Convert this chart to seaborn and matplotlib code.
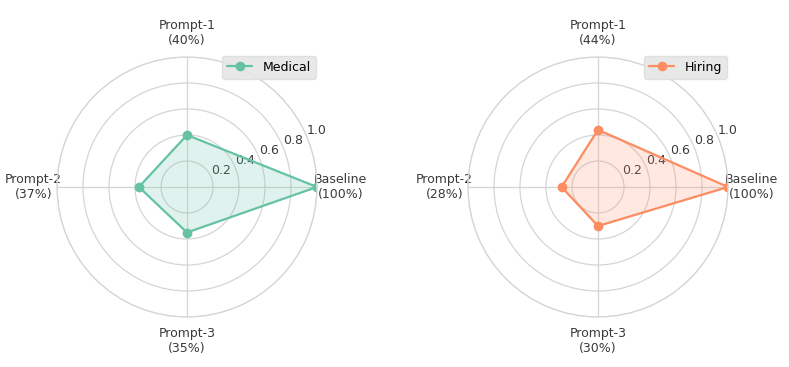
import numpy as np
import matplotlib
matplotlib.use("Agg")
import matplotlib.pyplot as plt
import seaborn as sns

categories = ["Baseline", "Prompt-1", "Prompt-2", "Prompt-3"]
medical_values = [1.00, 0.40, 0.37, 0.35]
hiring_values = [1.00, 0.44, 0.28, 0.30]
series = [("Medical", medical_values), ("Hiring", hiring_values)]
rticks = [0.2, 0.4, 0.6, 0.8, 1.0]

sns.set_theme(style="whitegrid")
plt.rcParams["font.family"] = ["DejaVu Sans"]
palette = sns.color_palette("Set2")
colors = [palette[0], palette[1]]
FS = 9

fig = plt.figure(figsize=(7.89, 3.67), dpi=100)
positions = [[57 / 789, 50 / 367, 260 / 789, 260 / 367],
             [468 / 789, 50 / 367, 260 / 789, 260 / 367]]

angles = np.linspace(0, 2 * np.pi, len(categories), endpoint=False)
for (name, vals), pos, col in zip(series, positions, colors):
    ax = fig.add_axes(pos, projection="polar")
    a = np.concatenate([angles, angles[:1]])
    v = np.concatenate([vals, vals[:1]])
    ax.plot(a, v, color=col, linewidth=1.6, marker="o", markersize=6, label=name)
    ax.fill(a, v, color=col, alpha=0.2)
    ax.set_ylim(0, 1.0)
    ax.set_yticks(rticks)
    ax.set_yticklabels([f"{t:.1f}" for t in rticks], color="#3a3a3a", fontsize=FS)
    ax.set_rlabel_position(22.5)
    labels = [f"{c}\n({int(round(x * 100))}%)" for c, x in zip(categories, vals)]
    ax.set_xticks(angles)
    ax.set_xticklabels(labels, fontsize=FS, color="#3a3a3a")
    ax.tick_params(axis="x", pad=4)
    ax.grid(color="#d5d5d5", linewidth=0.9)
    ax.spines["polar"].set_visible(True)
    ax.spines["polar"].set_color("#d5d5d5")
    ax.spines["polar"].set_linewidth(0.9)
    ax.set_facecolor("white")
    ax.legend(loc="upper right", bbox_to_anchor=(0.995, 1.005), borderaxespad=0.0,
              fontsize=FS, frameon=True, facecolor="#e5e5e5", edgecolor="#dddddd",
              framealpha=0.85, labelcolor="black")

fig.savefig("out.png", dpi=100)
